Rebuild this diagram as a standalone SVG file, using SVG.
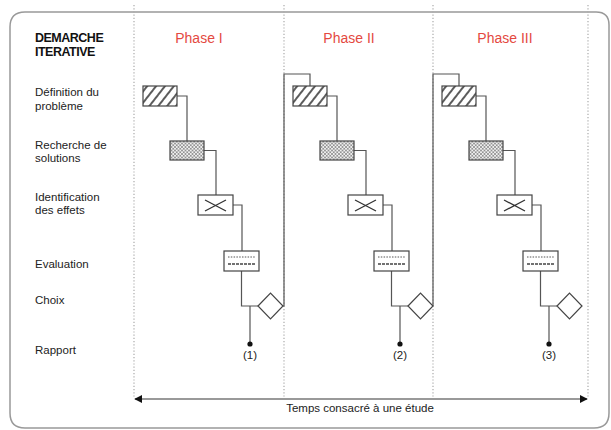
<svg xmlns="http://www.w3.org/2000/svg" width="611" height="430" viewBox="0 0 611 430">
<style>
.lbl{font-family:"Liberation Sans",Arial,sans-serif;font-size:11.5px;fill:#222}
.title{font-family:"Liberation Sans",Arial,sans-serif;font-size:12.5px;font-weight:bold;fill:#111;letter-spacing:-0.5px}
.phase{font-family:"Liberation Sans",Arial,sans-serif;font-size:14px;fill:#e4493f;text-anchor:middle}
.num{font-family:"Liberation Sans",Arial,sans-serif;font-size:11.5px;fill:#222;text-anchor:middle}
.box{stroke:#444;stroke-width:1.2;fill:#fff}
.conn{fill:none;stroke:#555;stroke-width:1.2}
.grid{stroke:#aaa;stroke-width:1.2;stroke-dasharray:1.2 2}
</style>
<defs>
<pattern id="hatch" width="7" height="7" patternUnits="userSpaceOnUse" patternTransform="rotate(38)">
<rect width="7" height="7" fill="#fff"/>
<line x1="1" y1="0" x2="1" y2="7" stroke="#333" stroke-width="1.6"/>
</pattern>
<pattern id="stipple" width="3.5" height="3.5" patternUnits="userSpaceOnUse">
<rect width="3.5" height="3.5" fill="#f2f2f2"/>
<path d="M0,0 L1.75,1.75 L3.5,0 M0,3.5 L1.75,1.75 L3.5,3.5" fill="none" stroke="#666" stroke-width="0.6"/>
</pattern>
<marker id="arr" viewBox="0 0 10 10" refX="9" refY="5" markerWidth="8" markerHeight="8" markerUnits="userSpaceOnUse" orient="auto-start-reverse">
<path d="M0,0 L10,5 L0,10 Z" fill="#111"/>
</marker>
<g id="defbox"><rect class="box" x="143" y="86" width="34" height="20" style="fill:url(#hatch)"/></g>
<g id="rechbox"><rect class="box" x="170" y="141" width="34" height="19" style="fill:url(#stipple)"/></g>
<g id="identbox"><rect class="box" x="198" y="195" width="35" height="20"/><path d="M205,200 L226,211 M205,211 L226,200" stroke="#333" stroke-width="1.3" fill="none"/></g>
<g id="evalbox"><rect class="box" x="224" y="251" width="35" height="20"/><line x1="228" y1="257" x2="255" y2="257" stroke="#555" stroke-width="1" stroke-dasharray="1.5 1.3"/><line x1="228" y1="264" x2="255" y2="264" stroke="#444" stroke-width="1.4" stroke-dasharray="3 1"/></g>
<g id="choixdia"><polygon class="box" points="258,306 270.5,293 283,306 270.5,319"/></g>
</defs>

<path d="M10,27 Q10,12 25,12 H596 Q609,12 609,25 V413 Q609,428 594,428 H25 Q10,428 10,413 Z" fill="none" stroke="#999" stroke-width="1.5"/>

<g id="grid">
<line class="grid" x1="134" y1="5" x2="134" y2="397"/>
<line class="grid" x1="284" y1="5" x2="284" y2="397"/>
<line class="grid" x1="433" y1="5" x2="433" y2="397"/>
<line class="grid" x1="588" y1="5" x2="588" y2="397"/>
</g>

<g id="labels">
<text class="title" x="35" y="42">DEMARCHE</text>
<text class="title" x="35" y="56">ITERATIVE</text>
<text class="lbl" x="35" y="96">Définition du</text>
<text class="lbl" x="35" y="110">problème</text>
<text class="lbl" x="35" y="149">Recherche de</text>
<text class="lbl" x="35" y="162">solutions</text>
<text class="lbl" x="35" y="201">Identification</text>
<text class="lbl" x="35" y="214">des effets</text>
<text class="lbl" x="35" y="268">Evaluation</text>
<text class="lbl" x="35" y="304">Choix</text>
<text class="lbl" x="35" y="354">Rapport</text>
</g>

<g id="phase-titles">
<text class="phase" x="199" y="43">Phase I</text>
<text class="phase" x="349" y="43">Phase II</text>
<text class="phase" x="505" y="43">Phase III</text>
</g>

<g id="connectors">
<path class="conn" d="M177,96 H187 V141 M204,150.5 H216 V195 M233,205 H242 V251 M241.5,271 V306 H258 M250,306 V344"/>
<path class="conn" d="M327,96 H337 V141 M354,150.5 H366 V195 M383,205 H392 V251 M391.5,271 V306 H408 M400,306 V344"/>
<path class="conn" d="M476,96 H486 V141 M503,150.5 H515 V195 M532,205 H541 V251 M540.5,271 V306 H557 M549,306 V344"/>
<path class="conn" d="M283,306 H284 V74 H310 V86"/>
<path class="conn" d="M433,306 V74 H459 V86"/>
<line x1="135" y1="399" x2="587" y2="399" stroke="#777" stroke-width="1.6" marker-start="url(#arr)" marker-end="url(#arr)"/>
</g>

<g id="p1-def"><use href="#defbox"/></g>
<g id="p1-rech"><use href="#rechbox"/></g>
<g id="p1-ident"><use href="#identbox"/></g>
<g id="p1-eval"><use href="#evalbox"/></g>
<g id="p1-choix"><use href="#choixdia"/></g>
<g id="p1-rapport"><circle cx="250" cy="344" r="2.6" fill="#111"/><text class="num" x="250" y="359">(1)</text></g>

<g id="p2-def" transform="translate(150,0)"><use href="#defbox"/></g>
<g id="p2-rech" transform="translate(150,0)"><use href="#rechbox"/></g>
<g id="p2-ident" transform="translate(150,0)"><use href="#identbox"/></g>
<g id="p2-eval" transform="translate(150,0)"><use href="#evalbox"/></g>
<g id="p2-choix" transform="translate(150,0)"><use href="#choixdia"/></g>
<g id="p2-rapport"><circle cx="400" cy="344" r="2.6" fill="#111"/><text class="num" x="400" y="359">(2)</text></g>

<g id="p3-def" transform="translate(299,0)"><use href="#defbox"/></g>
<g id="p3-rech" transform="translate(299,0)"><use href="#rechbox"/></g>
<g id="p3-ident" transform="translate(299,0)"><use href="#identbox"/></g>
<g id="p3-eval" transform="translate(299,0)"><use href="#evalbox"/></g>
<g id="p3-choix" transform="translate(299,0)"><use href="#choixdia"/></g>
<g id="p3-rapport"><circle cx="549" cy="344" r="2.6" fill="#111"/><text class="num" x="549" y="359">(3)</text></g>

<text class="lbl" x="360" y="412" text-anchor="middle">Temps consacré à une étude</text>
</svg>
